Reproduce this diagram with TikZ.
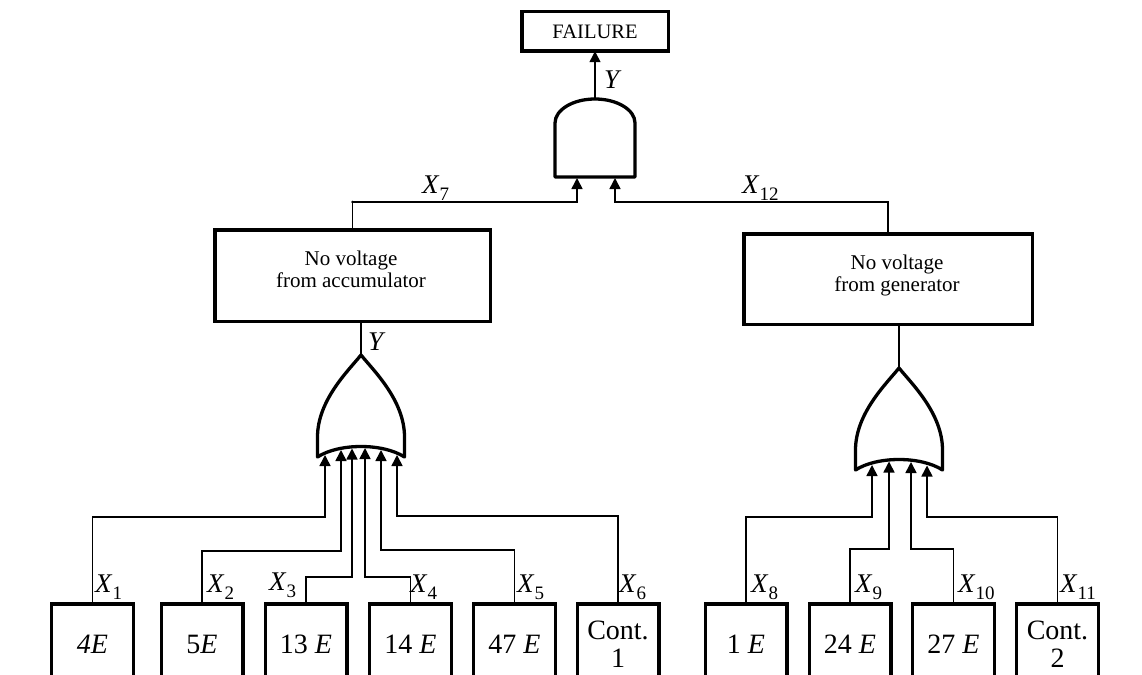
\documentclass[tikz,border=0pt]{standalone}
\usepackage{fontspec}
\setmainfont{Liberation Serif}
\usetikzlibrary{arrows.meta,calc}

% italic X with an upright, lowered index
\newcommand\varX[1]{\textit{X}\kern0pt\raisebox{-7pt}{\fontsize{19}{19}\selectfont #1}}

\begin{document}
\begin{tikzpicture}[x=1pt,y=-1pt,
  conn/.style={line width=1.6pt},
  feed/.style={conn,-{Triangle[length=11pt,width=11pt]}},
  gateline/.style={line width=3.3pt,line join=round},
  bigbox/.style={draw,line width=3.5pt,inner sep=0pt,outer sep=0pt},
  boxtext/.style={align=center,inner sep=0pt,font=\fontsize{21}{22}\selectfont},
  leaf/.style={draw,line width=3.3pt,minimum width=81.7pt,minimum height=80pt,
    inner sep=0pt,outer sep=0pt,align=center,font=\fontsize{28}{28}\selectfont},
  varlbl/.style={anchor=base west,inner sep=0pt,font=\fontsize{27}{27}\selectfont},
  orgate/.pic={
    \draw[gateline] (-43.5,82) .. controls (-43.5,45) and (-12,15) .. (0,0)
      .. controls (12,15) and (43.5,45) .. (43.5,82) -- (43.5,102)
      .. controls (22,88) and (-22,88) .. (-43.5,102) -- cycle;
    \coordinate (-out) at (0,0);
  },
  andgate/.pic={
    \draw[gateline] (-40,78) -- (-40,24) .. controls (-40,10.8) and (-22.1,0) .. (0,0)
      .. controls (22.1,0) and (40,10.8) .. (40,24) -- (40,78) -- cycle;
    \coordinate (-out) at (0,0);
    \coordinate (-in1) at (-18,79);
    \coordinate (-in2) at (20,79);
  },
]
\useasboundingbox (0,0) rectangle (1142,674);
\clip (0,0) rectangle (1142,674);

% top event and its AND gate
\node[bigbox,minimum width=146.5pt,minimum height=39.5pt,
  font=\fontsize{20.5}{20.5}\selectfont] (fail) at (595,31.5) {FAILURE};
\pic (andg) at (595,99) {andgate};
\draw[feed] (andg-out) -- (fail.south);
\node[varlbl] (lab-y) at (604,89) {\textit{Y}};

% intermediate events
\node[bigbox,minimum width=275.5pt,minimum height=91.5pt] (acc) at (352.5,275.5) {};
\node[boxtext] (acc-txt) at (351,269) {No voltage\\from accumulator};
\node[bigbox,minimum width=288.5pt,minimum height=90.5pt] (gen) at (888,279) {};
\node[boxtext] (gen-txt) at (897,275) {No voltage\\from generator};

\draw[feed] (acc.north) |- ($(andg-in1)+(0,24)$) -- (andg-in1);
\draw[feed] (gen.north) |- ($(andg-in2)+(0,24)$) -- (andg-in2);
\fill (acc.north |- 0,202) circle (1.3pt);
\node[varlbl] (lab-x7) at (422,193) {\varX{7}};
\node[varlbl] (lab-x12) at (742,193) {\varX{12}};

% OR gates
\pic (orL) at (361,355) {orgate};
\pic (orR) at (899,368) {orgate};
\draw[conn] (orL-out) -- (orL-out |- acc.south);
\draw[conn] (orR-out) -- (orR-out |- gen.south);
\node[varlbl] (lab-yl) at (368,350) {\textit{Y}};

% gate inputs on the concave base
\coordinate (orL-i1) at (325,455);
\coordinate (orL-i2) at (341,450);
\coordinate (orL-i3) at (352,448.5);
\coordinate (orL-i4) at (365,448);
\coordinate (orL-i5) at (381,450);
\coordinate (orL-i6) at (397,455);
\coordinate (orR-i1) at (872,465);
\coordinate (orR-i2) at (889,461.5);
\coordinate (orR-i3) at (911,462);
\coordinate (orR-i4) at (927,465.5);

% basic events
\node[leaf] (e4)  at (92.5,644)  {\textit{4E}};
\node[leaf] (e5)  at (202,644)   {5\textit{E}};
\node[leaf] (e13) at (306,644)   {13 \textit{E}};
\node[leaf] (e14) at (410.5,644) {14 \textit{E}};
\node[leaf] (e47) at (514.5,644) {47 \textit{E}};
\node[leaf] (c1)  at (618,644)   {Cont.\\1};
\node[leaf] (e1)  at (746,644)   {1 \textit{E}};
\node[leaf] (e24) at (850,644)   {24 \textit{E}};
\node[leaf] (e27) at (953.5,644) {27 \textit{E}};
\node[leaf] (c2)  at (1057.5,644){Cont.\\2};

% feeders into the accumulator gate
\draw[feed] (e4.north)  -- ++(0,-87) -| (orL-i1);
\draw[feed] (e5.north)  -- ++(0,-53) -| (orL-i2);
\draw[feed] (e13.north) -- ++(0,-27) -| (orL-i3);
\draw[feed] (e14.north) -- ++(0,-27) -| (orL-i4);
\draw[feed] (e47.north) -- ++(0,-54) -| (orL-i5);
\draw[feed] (c1.north)  -- ++(0,-88) -| (orL-i6);

% feeders into the generator gate
\draw[feed] (e1.north)  -- ++(0,-87) -| (orR-i1);
\draw[feed] (e24.north) -- ++(0,-55) -| (orR-i2);
\draw[feed] (e27.north) -- ++(0,-55) -| (orR-i3);
\draw[feed] (c2.north)  -- ++(0,-87) -| (orR-i4);

% variable labels
\node[varlbl] (lab-x1)  at (95,592)   {\varX{1}};
\node[varlbl] (lab-x2)  at (207,592)  {\varX{2}};
\node[varlbl] (lab-x3)  at (269,590)  {\varX{3}};
\node[varlbl] (lab-x4)  at (410,592)  {\varX{4}};
\node[varlbl] (lab-x5)  at (517,592)  {\varX{5}};
\node[varlbl] (lab-x6)  at (619,592)  {\varX{6}};
\node[varlbl] (lab-x8)  at (751,592)  {\varX{8}};
\node[varlbl] (lab-x9)  at (855,592)  {\varX{9}};
\node[varlbl] (lab-x10) at (958,592)  {\varX{10}};
\node[varlbl] (lab-x11) at (1060,592) {\varX{11}};
\end{tikzpicture}
\end{document}
